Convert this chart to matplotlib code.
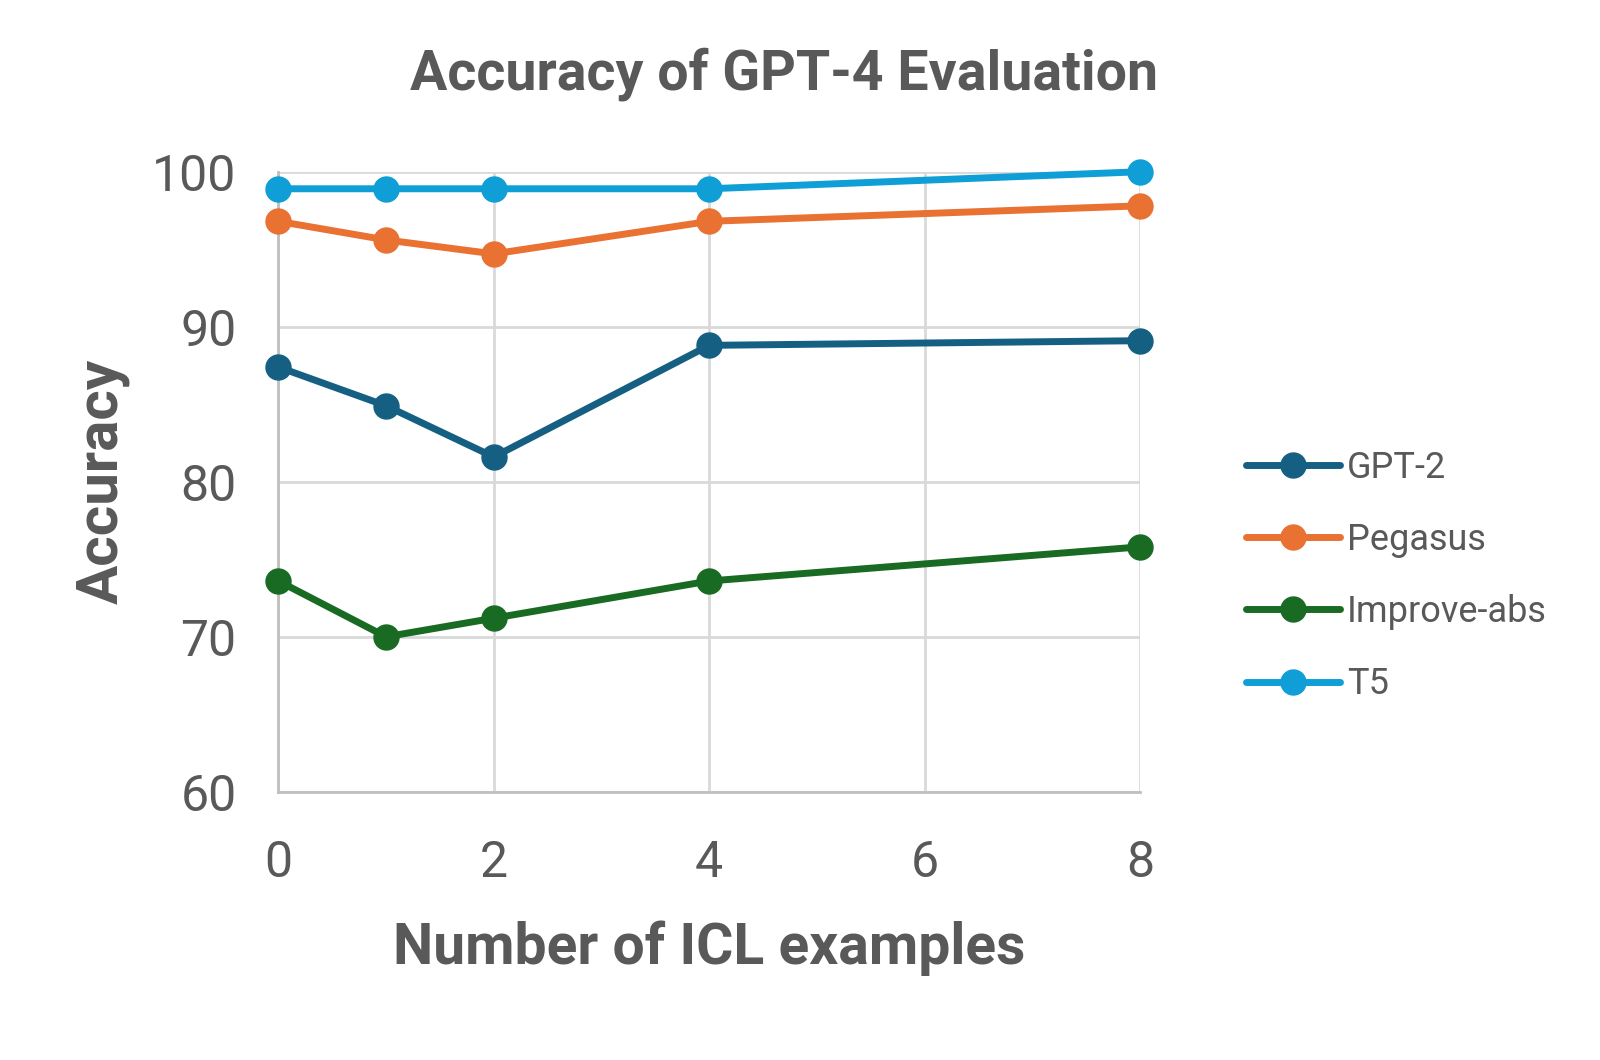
import matplotlib.pyplot as plt

# data
icl_examples = [0, 1, 2, 4, 8]
gpt2 = [87.4, 84.9, 81.6, 88.8, 89.1]
pegasus = [96.8, 95.6, 94.7, 96.8, 97.8]
improve_abs = [73.6, 70.0, 71.2, 73.6, 75.8]
t5 = [98.9, 98.9, 98.9, 98.9, 100.0]

series = [
    ("GPT-2", gpt2, "#156082"),
    ("Pegasus", pegasus, "#E97132"),
    ("Improve-abs", improve_abs, "#196B24"),
    ("T5", t5, "#0F9ED5"),
]

text_grey = "#595959"
plt.rcParams['font.family'] = ['Roboto', 'DejaVu Sans']

fig = plt.figure(figsize=(16, 10.6), dpi=100)
ax = fig.add_axes([0.174, 0.253, 0.5385, 0.585])

for name, vals, col in series:
    ax.plot(icl_examples, vals, color=col, lw=5, marker='o', ms=18,
            solid_capstyle='round', label=name, zorder=3, clip_on=False)

ax.set_xlim(0, 8)
ax.set_ylim(60, 100)
ax.set_xticks([0, 2, 4, 6, 8])
ax.set_yticks([60, 70, 80, 90, 100])
ax.grid(True, color="#D9D9D9", lw=2)
ax.set_axisbelow(True)
for s in ['top', 'right']:
    ax.spines[s].set_visible(False)
for s in ['left', 'bottom']:
    ax.spines[s].set_color("#BFBFBF")
    ax.spines[s].set_linewidth(2)
ax.tick_params(length=0, labelsize=36, colors=text_grey)
ax.tick_params(axis='x', pad=34)
ax.tick_params(axis='y', pad=30)

ax.set_xlabel("Number of ICL examples", fontsize=41, fontweight='bold',
              color=text_grey, labelpad=24)
ax.set_ylabel("Accuracy", fontsize=42, fontweight='bold', color=text_grey,
              labelpad=16)
fig.text(0.49, 0.93, "Accuracy of GPT-4 Evaluation", fontsize=40,
         fontweight='bold', color=text_grey, ha='center', va='center')

leg = ax.legend(loc='center left', bbox_to_anchor=(1.085, 0.348), frameon=False,
                fontsize=26, labelcolor=text_grey, handlelength=2.6,
                labelspacing=1.0, handletextpad=0.2)

fig.savefig("out.png", dpi=100, facecolor='white')
